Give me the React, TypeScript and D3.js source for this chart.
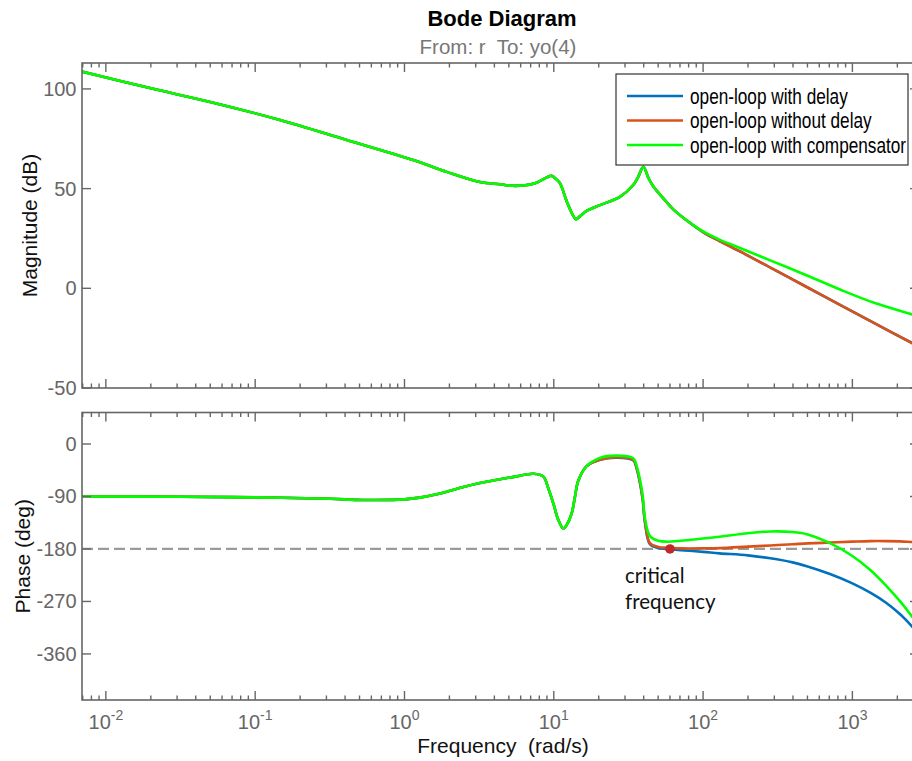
import React from "react";
import * as d3 from "d3";

// ---- Data (frequency in rad/s, magnitude in dB, phase in degrees) ----
const magFreq = [
  0.0069, 0.01875, 0.0524, 0.1466, 0.41, 1.146, 1.919, 3.206, 4.365, 5.358,
  7.295, 8.954, 9.683, 10.47, 11.02, 12.5, 14.09, 15.0, 16.6, 20.37, 27.73,
  34.04, 36.81, 39.81, 43.05, 46.45, 54.2, 63.1, 85.9, 105.7, 129.7, 176.6,
  295.1, 501.2, 826, 1413, 2512, 2793,
];
const magDelay = [
  108.7, 100.8, 93.1, 84.4, 74.4, 64.3, 58.4, 53.3, 52.2, 51.4, 52.4, 55.6,
  56.4, 54.5, 52.6, 41.7, 34.7, 36.2, 38.8, 41.7, 45.9, 51.8, 56.0, 61.0, 55.3,
  51.0, 45.1, 39.6, 31.6, 27.0, 23.6, 18.5, 9.6, 0.4, -8.3, -17.6, -27.5, -29.3,
];
const magNoDelay = [
  108.7, 100.8, 93.1, 84.4, 74.4, 64.3, 58.4, 53.3, 52.2, 51.4, 52.4, 55.6,
  56.4, 54.5, 52.6, 41.7, 34.7, 36.2, 38.8, 41.7, 45.9, 51.8, 56.0, 61.0, 55.3,
  51.0, 45.1, 39.6, 31.6, 27.0, 23.6, 18.5, 9.6, 0.4, -8.3, -17.6, -27.5, -29.3,
];
const magComp = [
  108.7, 100.8, 93.1, 84.4, 74.4, 64.3, 58.4, 53.3, 52.2, 51.4, 52.4, 55.6,
  56.4, 54.5, 52.6, 41.7, 34.7, 36.2, 38.8, 41.7, 45.9, 51.8, 56.0, 61.0, 55.3,
  51.0, 45.1, 39.6, 31.7, 27.5, 24.3, 20.2, 13.4, 6.3, -0.6, -7.4, -13.1, -14.2,
];

const phaseFreq = [
  0.0069, 0.0316, 0.1, 0.316, 0.527, 1.0, 1.259, 1.585, 1.919, 2.512, 3.206,
  4.365, 5.623, 7.295, 8.511, 9.183, 9.931, 10.72, 11.59, 12.19, 13.18, 13.87,
  14.59, 16.6, 20.37, 26.36, 34.04, 35.89, 37.76, 39.36, 40.83, 44.06, 50.12,
  57.02, 70.79, 100, 128.8, 199.5, 281.8, 398.1, 501.2, 707.9, 1000, 1318, 1698,
  2089, 2512, 2793,
];
const phaseDelay = [
  -90, -90.5, -91.5, -94, -96, -95, -92, -87, -81.7, -73.5, -67, -60.5, -55.5,
  -51, -56, -76, -102, -130, -145, -139, -119, -90, -63, -38, -27, -23.5, -28,
  -42, -67, -95, -135, -172, -178.5, -180, -182, -185, -187.5, -191, -196, -203,
  -210, -223, -239, -255, -273, -292, -313, -327,
];
const phaseNoDelay = [
  -90, -90.5, -91.5, -94, -96, -95, -92, -87, -81.7, -73.5, -67, -60.5, -55.5,
  -51, -56, -76, -102, -130, -145, -139, -119, -90, -63, -38, -27, -22.5, -27,
  -41, -65, -93, -133, -170, -176.5, -178, -179, -179, -178.5, -176, -174, -172,
  -170.5, -169, -167.5, -166.5, -166.5, -167, -168, -168.5,
];
const phaseComp = [
  -90, -90.5, -91.5, -94, -96, -95, -92, -87, -81.7, -73.5, -67, -60.5, -55.5,
  -51, -56, -76, -102, -130, -145, -139, -119, -90, -63, -38, -24, -20, -24.5,
  -38, -61, -88, -128, -158, -166, -167.5, -166, -162, -159, -153, -150, -151,
  -155, -170, -192, -216, -244, -270, -296, -311,
];

const seriesNames = [
  "open-loop with delay",
  "open-loop without delay",
  "open-loop with compensator",
];
const seriesColors = ["#0072BD", "#D95319", "#00FF00"];

const magTicks = [-50, 0, 50, 100];
const phaseTicks = [0, -90, -180, -270, -360];
const decadeExponents = [-2, -1, 0, 1, 2, 3];

const criticalFreq = 60;
const criticalPhase = -180;

// ---- Layout ----
const W = 912;
const H = 761;
const L = 82;
const R = 919;
const magTop = 63;
const magBottom = 388;
const phTop = 412.5;
const phBottom = 700;

const axisColor = "#666666";
const font = "'Liberation Sans', Arial, Helvetica, sans-serif";

const x = d3.scaleLog().domain([0.00692, 2793]).range([L, R]);
const yMag = d3.scaleLinear().domain([-50, 113]).range([magBottom, magTop]);
const yPh = d3.scaleLinear().domain([-439, 54]).range([phBottom, phTop]);

const xTicks = x.ticks();
const isMajor = (t: number) => Math.abs(Math.log10(t) - Math.round(Math.log10(t))) < 1e-9;

function makePath(freq: number[], vals: number[], y: d3.ScaleLinear<number, number>) {
  const line = d3
    .line<[number, number]>()
    .x((d) => x(d[0]))
    .y((d) => y(d[1]))
    .curve(d3.curveCatmullRom.alpha(0.5));
  return line(freq.map((f, i) => [f, vals[i]] as [number, number])) || "";
}

function Frame({ top, bottom, yTicks, y }: { top: number; bottom: number; yTicks: number[]; y: d3.ScaleLinear<number, number> }) {
  return (
    <g>
      <rect x={L} y={top} width={R - L} height={bottom - top} fill="none" stroke={axisColor} strokeWidth={1.6} />
      {xTicks.map((t, i) => {
        const len = isMajor(t) ? 9 : 4.5;
        const xx = x(t);
        return (
          <g key={i}>
            <line x1={xx} x2={xx} y1={bottom} y2={bottom - len} stroke={axisColor} strokeWidth={1.4} />
            <line x1={xx} x2={xx} y1={top} y2={top + len} stroke={axisColor} strokeWidth={1.4} />
          </g>
        );
      })}
      {yTicks.map((t) => (
        <g key={t}>
          <line x1={L} x2={L + 9} y1={y(t)} y2={y(t)} stroke={axisColor} strokeWidth={1.4} />
          <line x1={R} x2={R - 9} y1={y(t)} y2={y(t)} stroke={axisColor} strokeWidth={1.4} />
          <text x={76.5} y={y(t)} dy="0.35em" textAnchor="end" fontSize={20} fill={axisColor} fontFamily={font}>
            {t}
          </text>
        </g>
      ))}
    </g>
  );
}

export default function App() {
  const magSeries = [magDelay, magNoDelay, magComp];
  const phaseSeries = [phaseDelay, phaseNoDelay, phaseComp];
  return (
    <svg width={W} height={H} style={{ position: "absolute", left: 0, top: 0, background: "#fff" }}>
      <defs>
        <clipPath id="clip-mag">
          <rect x={L} y={magTop} width={R - L} height={magBottom - magTop} />
        </clipPath>
        <clipPath id="clip-phase">
          <rect x={L} y={phTop} width={R - L} height={phBottom - phTop} />
        </clipPath>
      </defs>
      <rect width={W} height={H} fill="#fff" />

      {/* Titles */}
      <text x={502} y={26} textAnchor="middle" fontSize={22} fontWeight="bold" fill="#000" fontFamily={font}>
        Bode Diagram
      </text>
      <text x={498} y={54} textAnchor="middle" fontSize={20.5} fill="#777" fontFamily={font} style={{ whiteSpace: "pre" }}>
        {"From: r  To: yo(4)"}
      </text>

      {/* Magnitude panel */}
      <g clipPath="url(#clip-mag)">
        {magSeries.map((vals, i) => (
          <path key={i} d={makePath(magFreq, vals, yMag)} fill="none" stroke={seriesColors[i]} strokeWidth={2.6} strokeLinejoin="round" />
        ))}
      </g>
      <Frame top={magTop} bottom={magBottom} yTicks={magTicks} y={yMag} />

      {/* Phase panel */}
      <g clipPath="url(#clip-phase)">
        <line x1={L} x2={R} y1={yPh(-180)} y2={yPh(-180)} stroke="#9a9a9a" strokeWidth={2.2} strokeDasharray="11 5" />
        {phaseSeries.map((vals, i) => (
          <path key={i} d={makePath(phaseFreq, vals, yPh)} fill="none" stroke={seriesColors[i]} strokeWidth={2.6} strokeLinejoin="round" />
        ))}
        <circle cx={x(criticalFreq)} cy={yPh(criticalPhase)} r={4.8} fill="#C0282A" />
      </g>
      <Frame top={phTop} bottom={phBottom} yTicks={phaseTicks} y={yPh} />

      <text x={625} y={583} fontSize={20.5} fill="#111" fontFamily="Lato, 'Open Sans', sans-serif">
        critical
      </text>
      <text x={625} y={609} fontSize={20.5} fill="#111" fontFamily="Lato, 'Open Sans', sans-serif">
        frequency
      </text>

      {/* Frequency tick labels */}
      {decadeExponents.map((e) => (
        <text key={e} x={x(Math.pow(10, e))} y={729} textAnchor="middle" fontSize={20} fill={axisColor} fontFamily={font}>
          <tspan>10</tspan>
          <tspan dy={-9} fontSize={14}>{String(e)}</tspan>
        </text>
      ))}

      {/* Axis labels */}
      <text x={503} y={753} textAnchor="middle" fontSize={21} fill="#111" fontFamily={font} style={{ whiteSpace: "pre" }}>
        {"Frequency  (rad/s)"}
      </text>
      <text transform={`translate(37, ${(magTop + magBottom) / 2}) rotate(-90)`} textAnchor="middle" fontSize={21} fill="#111" fontFamily={font}>
        Magnitude (dB)
      </text>
      <text transform={`translate(30, ${(phTop + phBottom) / 2}) rotate(-90)`} textAnchor="middle" fontSize={21} fill="#111" fontFamily={font}>
        Phase (deg)
      </text>

      {/* Legend */}
      <g>
        <rect x={616} y={74} width={292} height={91} fill="#fff" stroke="#333" strokeWidth={1.2} />
        {seriesNames.map((name, i) => {
          const cy = 96 + i * 24.5;
          return (
            <g key={name}>
              <line x1={627} x2={683} y1={cy} y2={cy} stroke={seriesColors[i]} strokeWidth={2.4} />
              <text transform={`translate(690, ${cy + 7.5}) scale(0.765, 1)`} fontSize={22.5} fill="#000" fontFamily={font}>
                {name}
              </text>
            </g>
          );
        })}
      </g>
    </svg>
  );
}
